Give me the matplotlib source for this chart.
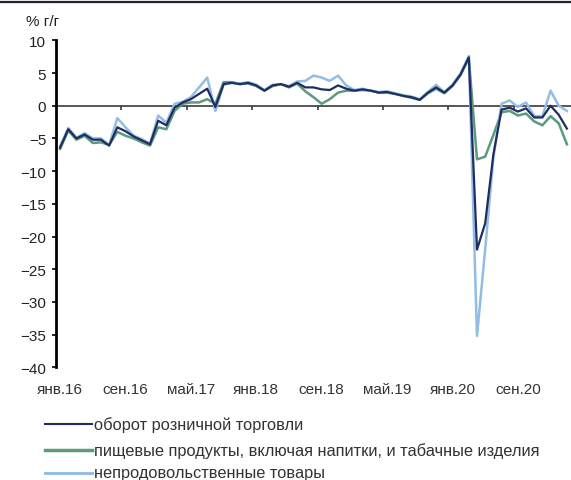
import matplotlib
matplotlib.use("Agg")
import matplotlib.pyplot as plt
from matplotlib.lines import Line2D
import numpy as np

plt.rcParams['font.family'] = ['Liberation Sans', 'DejaVu Sans']

# Monthly year-on-year change, %, Jan 2016 - Mar 2021
months = ["янв.16", "фев.16", "мар.16", "апр.16", "май.16", "июн.16", "июл.16", "авг.16",
          "сен.16", "окт.16", "ноя.16", "дек.16",
          "янв.17", "фев.17", "мар.17", "апр.17", "май.17", "июн.17", "июл.17", "авг.17",
          "сен.17", "окт.17", "ноя.17", "дек.17",
          "янв.18", "фев.18", "мар.18", "апр.18", "май.18", "июн.18", "июл.18", "авг.18",
          "сен.18", "окт.18", "ноя.18", "дек.18",
          "янв.19", "фев.19", "мар.19", "апр.19", "май.19", "июн.19", "июл.19", "авг.19",
          "сен.19", "окт.19", "ноя.19", "дек.19",
          "янв.20", "фев.20", "мар.20", "апр.20", "май.20", "июн.20", "июл.20", "авг.20",
          "сен.20", "окт.20", "ноя.20", "дек.20",
          "янв.21", "фев.21", "мар.21"]

retail = [-6.4, -3.6, -5.0, -4.4, -5.2, -5.2, -6.1, -3.3, -3.9, -4.7, -5.3, -5.9,
          -2.3, -3.0, -0.3, 0.5, 1.0, 1.8, 2.6, -0.2, 3.3, 3.5, 3.3, 3.5,
          3.1, 2.3, 3.1, 3.3, 2.9, 3.5, 2.8, 2.8, 2.5, 2.4, 3.1, 2.6,
          2.3, 2.5, 2.3, 2.0, 2.1, 1.8, 1.5, 1.3, 0.9, 2.0, 2.8, 2.0,
          3.1, 4.8, 7.4, -22.0, -18.0, -7.5, -0.6, -0.3, -0.9, -0.4, -1.8, -1.8,
          0.0, -1.4, -3.5]

food = [-6.6, -3.8, -5.2, -4.6, -5.7, -5.6, -6.0, -4.0, -4.6, -5.0, -5.6, -6.1,
        -3.3, -3.6, -0.8, 0.3, 0.5, 0.5, 1.0, 0.3, 3.6, 3.6, 3.3, 3.4,
        3.0, 2.3, 3.0, 3.3, 2.8, 3.4, 2.2, 1.3, 0.3, 1.0, 2.0, 2.3,
        2.3, 2.4, 2.3, 2.0, 2.0, 1.8, 1.5, 1.2, 0.9, 1.9, 2.6, 1.9,
        3.0, 4.7, 7.3, -8.2, -7.8, -4.5, -1.0, -0.8, -1.5, -1.2, -2.4, -3.0,
        -1.6, -2.7, -5.9]

nonfood = [-6.2, -3.4, -4.9, -4.2, -5.0, -5.0, -6.0, -1.9, -3.3, -4.6, -5.1, -5.8,
           -1.5, -2.6, 0.3, 0.6, 1.3, 2.8, 4.3, -0.8, 3.2, 3.5, 3.4, 3.6,
           3.2, 2.4, 3.2, 3.3, 3.0, 3.7, 3.8, 4.6, 4.3, 3.8, 4.6, 3.1,
           2.4, 2.6, 2.3, 2.1, 2.2, 1.9, 1.6, 1.4, 1.0, 2.1, 3.2, 2.1,
           3.2, 5.0, 7.6, -35.2, -22.0, -8.0, 0.3, 0.8, -0.2, 0.5, -1.6, -1.6,
           2.3, 0.0, -0.8]

series_names = ["оборот розничной торговли",
                "пищевые продукты, включая напитки, и табачные изделия",
                "непродовольственные товары"]
colors = {"retail": "#1f2d62", "food": "#5b9a7c", "nonfood": "#93bde3"}

W, H = 571, 481
fig = plt.figure(figsize=(W / 100, H / 100), dpi=100)
ax = fig.add_axes([56 / W, 1 - 368.3 / H, 1 - 56 / W, (368.3 - 41.3) / H])

x = np.arange(len(months))
ax.plot(x, food, color=colors["food"], lw=1.8, solid_joinstyle='round', zorder=3)
ax.plot(x, nonfood, color=colors["nonfood"], lw=1.8, solid_joinstyle='round', zorder=4)
ax.plot(x, retail, color=colors["retail"], lw=1.6, solid_joinstyle='round', zorder=5)

ax.set_xlim(-0.5, len(months) - 0.5)
ax.set_ylim(-40, 10)
ax.set_yticks(np.arange(-40, 11, 5))

for s in ("top", "right"):
    ax.spines[s].set_visible(False)
ax.spines["left"].set_linewidth(2.0)
ax.spines["left"].set_color("black")
ax.spines["bottom"].set_position(("data", 0))
ax.spines["bottom"].set_color("#3a3a3a")
ax.spines["bottom"].set_linewidth(1.2)
ax.spines["bottom"].set_zorder(2)

# category-boundary ticks on the zero line
ax.set_xticks(np.arange(7.5, len(months) - 1, 8))
ax.tick_params(axis="x", direction="out", length=3, width=1.2, color="#3a3a3a",
               labelbottom=False)
ax.tick_params(axis="y", direction="out", length=3, width=1.2, color="black",
               labelsize=11, labelcolor="#222222", pad=4)

# month labels below the plot
lab_pos = list(range(0, len(months), 8))
sec = ax.secondary_xaxis(0)
sec.set_xticks(lab_pos, [months[i] for i in lab_pos])
sec.spines["bottom"].set_visible(False)
sec.tick_params(length=0, pad=10.5, labelsize=11, labelcolor="#333333")

fig.text(26 / W, 1 - 22 / H, "% г/г", fontsize=11, color="#222222",
         ha="left", va="center")

# top rule
fig.add_artist(Line2D([0, 1], [1 - 2.5 / H, 1 - 2.5 / H], transform=fig.transFigure,
                      color="#1e2233", lw=1.6))

# legend
rows = [425, 451, 474]
for name, key, yy, lw in zip(series_names, ["retail", "food", "nonfood"], rows, [1.5, 2.5, 2.1]):
    fy = 1 - yy / H
    fig.add_artist(Line2D([45 / W, 92 / W], [fy, fy], transform=fig.transFigure,
                          color=colors[key], lw=lw))
    fig.text(94 / W, fy, name, fontsize=11.8, color="#333333", ha="left", va="center")

fig.savefig("out.png", dpi=100)
